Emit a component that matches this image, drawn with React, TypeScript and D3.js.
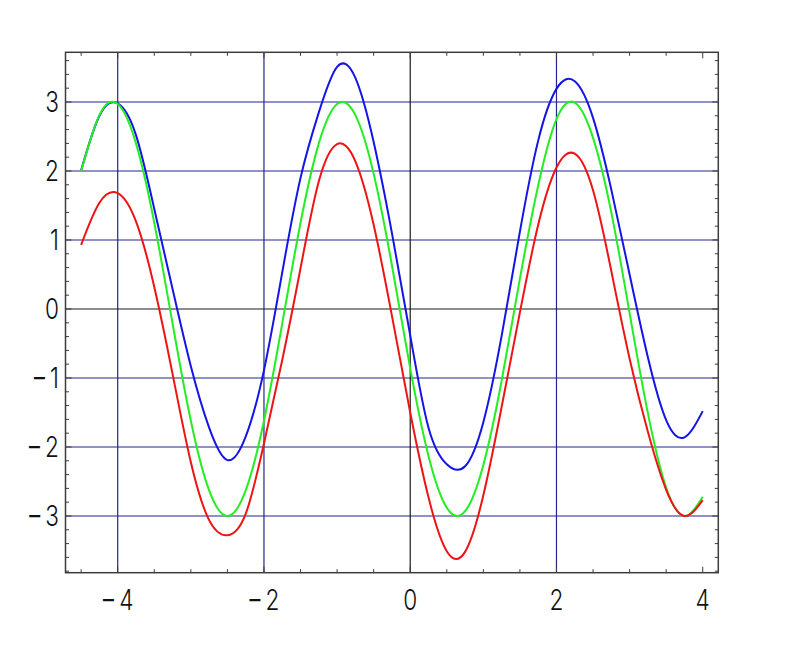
import React from "react";
import * as d3 from "d3";

// sample positions along x (step 0.25)
const xs = [
  -4.5, -4.25, -4.0, -3.75, -3.5, -3.25, -3.0, -2.75, -2.5, -2.25, -2.0, -1.75,
  -1.5, -1.25, -1.0, -0.75, -0.5, -0.25, 0.0, 0.25, 0.5, 0.75, 1.0, 1.25, 1.5,
  1.75, 2.0, 2.25, 2.5, 2.75, 3.0, 3.25, 3.5, 3.75, 4.0,
];

// values
const blueValues = [
  2.01, 2.8, 2.98, 2.52, 1.45, 0.29, -0.83, -1.72, -2.19, -1.85, -0.89, 0.53,
  1.9, 2.85, 3.51, 3.35, 2.42, 1.1, -0.38, -1.72, -2.25, -2.28, -1.64, -0.39,
  1.12, 2.44, 3.19, 3.3, 2.77, 1.73, 0.5, -0.7, -1.61, -1.86, -1.48,
];
const greenValues = [
  2.0, 2.81, 2.97, 2.4, 1.25, -0.21, -1.62, -2.63, -3.0, -2.63, -1.62, -0.21,
  1.25, 2.4, 2.97, 2.81, 1.96, 0.63, -0.86, -2.13, -2.88, -2.93, -2.26, -1.04,
  0.44, 1.79, 2.75, 2.99, 2.48, 1.4, -0.06, -1.51, -2.59, -3.0, -2.72,
];
const redValues = [
  0.93, 1.54, 1.68, 1.27, 0.32, -0.94, -2.22, -3.06, -3.28, -2.97, -1.95, -0.74,
  0.59, 1.85, 2.39, 2.14, 1.22, -0.1, -1.5, -2.73, -3.51, -3.52, -2.7, -1.42,
  -0.05, 1.22, 2.05, 2.25, 1.72, 0.55, -0.72, -1.78, -2.62, -3.0, -2.77,
];

const xTickLabels = [-4, -2, 0, 2, 4];
const yTickLabels = [-3, -2, -1, 0, 1, 2, 3];
const xGrid = [-4, -2, 2];
const yGrid = [-3, -2, -1, 1, 2, 3];

const W = 785;
const H = 652;
const left = 65.5;
const right = 718.3;
const top = 52.3;
const bottom = 572.7;

const gridColor = "#24278a";
const axisColor = "#1a1a1a";
const frameColor = "#3c3c3c";
const labelFont = "Inter, Lato, 'DejaVu Sans', sans-serif";

// label text: wide minus sign, a small gap, then the digit
function Label({ v }: { v: number }) {
  if (v >= 0) return <>{String(v)}</>;
  return (
    <>
      <tspan fontFamily="'Liberation Sans', Arial, sans-serif" fontWeight={400}>
        {"\u2212"}
      </tspan>
      <tspan dx={5}>{String(Math.abs(v))}</tspan>
    </>
  );
}

export default function App() {
  const x = d3.scaleLinear().domain([-4.714, 4.213]).range([left, right]);
  const y = d3.scaleLinear().domain([-3.822, 3.72]).range([bottom, top]);

  const line = d3
    .line<number>()
    .x((_, i) => x(xs[i]))
    .y((d) => y(d))
    .curve(d3.curveNatural);

  // minor ticks: every 0.5 on x, every 0.2 on y
  const xMinor = d3.range(-4.5, 4.01, 0.5);
  const yMinor = d3.range(-3.8, 3.61, 0.2).map((v) => Math.round(v * 10) / 10);
  const isMajorX = (v: number) => Math.abs(v % 2) < 1e-6;
  const isMajorY = (v: number) => Math.abs(v - Math.round(v)) < 1e-6;

  const series = [
    { values: blueValues, color: "#1414e6" },
    { values: greenValues, color: "#22ee22" },
    { values: redValues, color: "#ee1414" },
  ];

  return (
    <svg
      width={W}
      height={H}
      style={{ position: "absolute", left: 0, top: 0, background: "#fff" }}
    >
      {/* grid */}
      {xGrid.map((v) => (
        <line
          key={"gx" + v}
          x1={x(v)}
          x2={x(v)}
          y1={top}
          y2={bottom}
          stroke={gridColor}
          strokeWidth={1.2}
        />
      ))}
      {yGrid.map((v) => (
        <line
          key={"gy" + v}
          x1={left}
          x2={right}
          y1={y(v)}
          y2={y(v)}
          stroke={gridColor}
          strokeWidth={1.2}
        />
      ))}
      <line x1={x(0)} x2={x(0)} y1={top} y2={bottom} stroke={axisColor} strokeWidth={1.2} />
      <line x1={left} x2={right} y1={y(0)} y2={y(0)} stroke={axisColor} strokeWidth={1.2} />

      {/* ticks */}
      {xMinor.map((v) => {
        const len = isMajorX(v) ? 6 : 3.5;
        return (
          <g key={"tx" + v} stroke={frameColor} strokeWidth={1}>
            <line x1={x(v)} x2={x(v)} y1={bottom} y2={bottom - len} />
            <line x1={x(v)} x2={x(v)} y1={top} y2={top + len} />
          </g>
        );
      })}
      {yMinor.map((v) => {
        const len = isMajorY(v) ? 6 : 3.5;
        return (
          <g key={"ty" + v} stroke={frameColor} strokeWidth={1}>
            <line x1={left} x2={left + len} y1={y(v)} y2={y(v)} />
            <line x1={right} x2={right - len} y1={y(v)} y2={y(v)} />
          </g>
        );
      })}

      {/* curves */}
      {series.map((s, i) => (
        <path
          key={i}
          d={line(s.values) || ""}
          fill="none"
          stroke={s.color}
          strokeWidth={2}
        />
      ))}

      {/* frame */}
      <rect
        x={left}
        y={top}
        width={right - left}
        height={bottom - top}
        fill="none"
        stroke={frameColor}
        strokeWidth={1.5}
      />

      {/* tick labels */}
      {yTickLabels.map((v) => (
        <text
          key={"ly" + v}
          transform={`translate(59,${y(v) + 10.5}) scale(0.78,1)`}
          textAnchor="end"
          fontFamily={labelFont}
          fontWeight={300}
          fontSize={29}
          fill="#111"
        >
          <Label v={v} />
        </text>
      ))}
      {xTickLabels.map((v) => (
        <text
          key={"lx" + v}
          transform={`translate(${x(v)},609.5) scale(0.78,1)`}
          textAnchor="middle"
          fontFamily={labelFont}
          fontWeight={300}
          fontSize={29}
          fill="#111"
        >
          <Label v={v} />
        </text>
      ))}
    </svg>
  );
}
